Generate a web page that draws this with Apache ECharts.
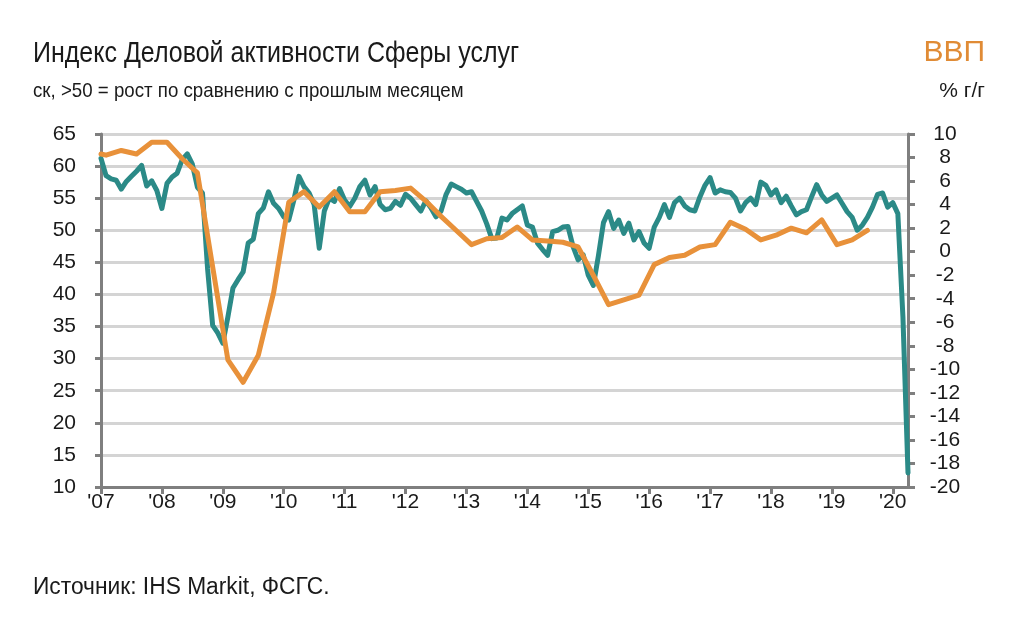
<!DOCTYPE html>
<html><head><meta charset="utf-8">
<script src="https://cdn.jsdelivr.net/npm/echarts@6/dist/echarts.min.js"></script>
<style>html,body{margin:0;padding:0;background:#fff}#c{width:1012px;height:622px}</style>
</head><body><div id="c"></div>
<script>
// Months Jan 2007 .. Apr 2020
var months = [];
for (var y = 2007; y <= 2020; y++) {
  for (var mo = 1; mo <= 12; mo++) {
    if (y === 2020 && mo > 4) break;
    months.push(y + '-' + (mo < 10 ? '0' : '') + mo);
  }
}
// Services PMI (left axis)
var pmi = [
  61.2,58.5,58.0,57.8,56.4,57.6,58.4,59.2,60.1,56.9,57.7,56.2,
  53.4,57.3,58.3,58.9,61.0,61.9,60.3,56.7,55.8,44.0,35.2,34.0,
  32.4,36.5,41.0,42.3,43.5,48.0,48.6,52.6,53.5,56.0,54.2,53.4,
  52.1,51.6,54.7,58.4,56.8,55.8,54.0,47.2,53.0,55.0,54.5,56.5,
  54.7,53.7,55.0,56.8,57.8,55.5,56.8,54.0,53.2,53.4,54.5,53.9,
  55.6,55.0,54.0,53.0,54.6,53.5,52.1,53.0,55.6,57.2,56.8,56.4,
  55.8,56.0,54.5,53.0,51.0,48.7,48.8,51.9,51.6,52.6,53.2,53.8,
  50.8,50.5,48.0,47.0,46.1,49.8,50.0,50.5,50.6,47.5,45.4,46.2,
  43.0,41.4,46.0,51.2,52.9,50.3,51.6,49.5,51.1,48.5,49.8,48.0,
  47.2,50.5,52.0,54.0,52.0,54.3,55.0,53.8,53.2,53.0,55.2,57.0,
  58.2,55.8,56.3,56.0,55.9,55.0,53.0,54.3,55.0,54.0,57.5,57.0,
  55.5,56.3,54.3,55.3,53.8,52.4,52.9,53.2,55.2,57.1,55.5,54.5,
  55.0,55.5,54.2,52.9,52.0,50.0,50.8,52.0,53.6,55.6,55.8,53.6,
  54.3,52.6,36.5,12.2
];
// GDP % y/y (right axis), plotted at mid-quarter months
var gdpDates = [
  '2007-01','2007-02','2007-05','2007-08','2007-11',
  '2008-02','2008-05','2008-08','2008-11',
  '2009-02','2009-05','2009-08','2009-11',
  '2010-02','2010-05','2010-08','2010-11',
  '2011-02','2011-05','2011-08','2011-11',
  '2012-02','2012-05','2012-08','2012-11',
  '2013-02','2013-05','2013-08','2013-11',
  '2014-02','2014-05','2014-08','2014-11',
  '2015-02','2015-05','2015-08','2015-11',
  '2016-02','2016-05','2016-08','2016-11',
  '2017-02','2017-05','2017-08','2017-11',
  '2018-02','2018-05','2018-08','2018-11',
  '2019-02','2019-05','2019-08'
];
var gdpValues = [
  8.3,8.2,8.6,8.3,9.3,
  9.3,7.9,6.7,-1.3,
  -9.2,-11.1,-8.8,-3.5,
  4.2,5.1,3.8,5.1,
  3.4,3.4,5.1,5.2,
  5.4,4.3,3.0,1.8,
  0.6,1.1,1.2,2.1,
  1.0,0.9,0.8,0.4,
  -2.0,-4.5,-4.1,-3.7,
  -1.1,-0.5,-0.3,0.4,
  0.6,2.5,1.9,1.0,
  1.4,2.0,1.6,2.7,
  0.6,1.0,1.8
];
var leftTicks = {min: 10, max: 65, interval: 5};
var rightTicks = {min: -20, max: 10, interval: 2};

var gdpSeries = gdpDates.map(function (d, i) { return [months.indexOf(d), gdpValues[i]]; });

var FONT = '"Liberation Sans", Arial, sans-serif';
var AX = '#7f7f7f';
var TXT = '#1a1a1a';
function txt(s, x, y, size, opts) {
  opts = opts || {};
  return {type: 'text', x: x, y: y, scaleX: opts.scaleX || 1, silent: true,
    style: {text: s, font: size + 'px ' + FONT, fill: opts.color || TXT,
      align: opts.align || 'left', textAlign: opts.align || 'left',
      verticalAlign: 'top', textVerticalAlign: 'top'}};
}
var chart = echarts.init(document.getElementById('c'), null, {renderer: 'canvas'});
chart.setOption({
  animation: false,
  backgroundColor: '#fff',
  graphic: [
    txt('Индекс Деловой активности Сферы услуг', 33, 39, 29, {scaleX: 0.862}),
    txt('ск, >50 = рост по сравнению с прошлым месяцем', 33, 81, 21, {scaleX: 0.89}),
    txt('ВВП', 985, 38, 30, {align: 'right', color: '#e08b35'}),
    txt('% г/г', 985, 81, 21, {align: 'right'}),
    txt('Источник: IHS Markit, ФСГС.', 33, 576, 23, {scaleX: 0.99})
  ],
  grid: {left: 101, right: 104, top: 134, bottom: 135, containLabel: false},
  xAxis: {
    type: 'category', data: months, boundaryGap: false,
    axisLine: {onZero: false, lineStyle: {color: AX, width: 3}},
    axisTick: {show: true, length: 7, lineStyle: {color: AX, width: 3},
      interval: function (i) { return i % 12 === 0; }},
    axisLabel: {interval: function (i) { return i % 12 === 0; }, margin: 5,
      fontFamily: FONT, fontSize: 21, color: TXT,
      formatter: function (v) { return "'" + v.substr(2, 2); }},
    splitLine: {show: false}
  },
  yAxis: [
    {type: 'value', min: leftTicks.min, max: leftTicks.max, interval: leftTicks.interval,
     axisLine: {show: true, lineStyle: {color: AX, width: 3}},
     axisTick: {show: true, length: 6, lineStyle: {color: AX, width: 3}},
     axisLabel: {margin: 25, fontFamily: FONT, fontSize: 21, color: TXT,
       showMinLabel: true, showMaxLabel: true},
     splitLine: {show: true, lineStyle: {color: '#d4d4d4', width: 3}}},
    {type: 'value', min: rightTicks.min, max: rightTicks.max, interval: rightTicks.interval,
     position: 'right',
     axisLine: {show: true, onZero: false, lineStyle: {color: AX, width: 3}},
     axisTick: {show: true, length: 7, lineStyle: {color: AX, width: 3}},
     axisLabel: {margin: 37, align: 'center', fontFamily: FONT, fontSize: 21, color: TXT,
       showMinLabel: true, showMaxLabel: true, hideOverlap: false},
     splitLine: {show: false}}
  ],
  series: [
    {name: 'PMI', type: 'line', yAxisIndex: 0, data: pmi, showSymbol: false, symbol: 'none',
     lineStyle: {color: '#2b8a87', width: 5, cap: 'round', join: 'round'}, z: 3},
    {name: 'ВВП', type: 'line', yAxisIndex: 1, data: gdpSeries, showSymbol: false, symbol: 'none',
     connectNulls: true,
     lineStyle: {color: '#e8913a', width: 5, cap: 'round', join: 'round'}, z: 4}
  ]
});
</script></body></html>
